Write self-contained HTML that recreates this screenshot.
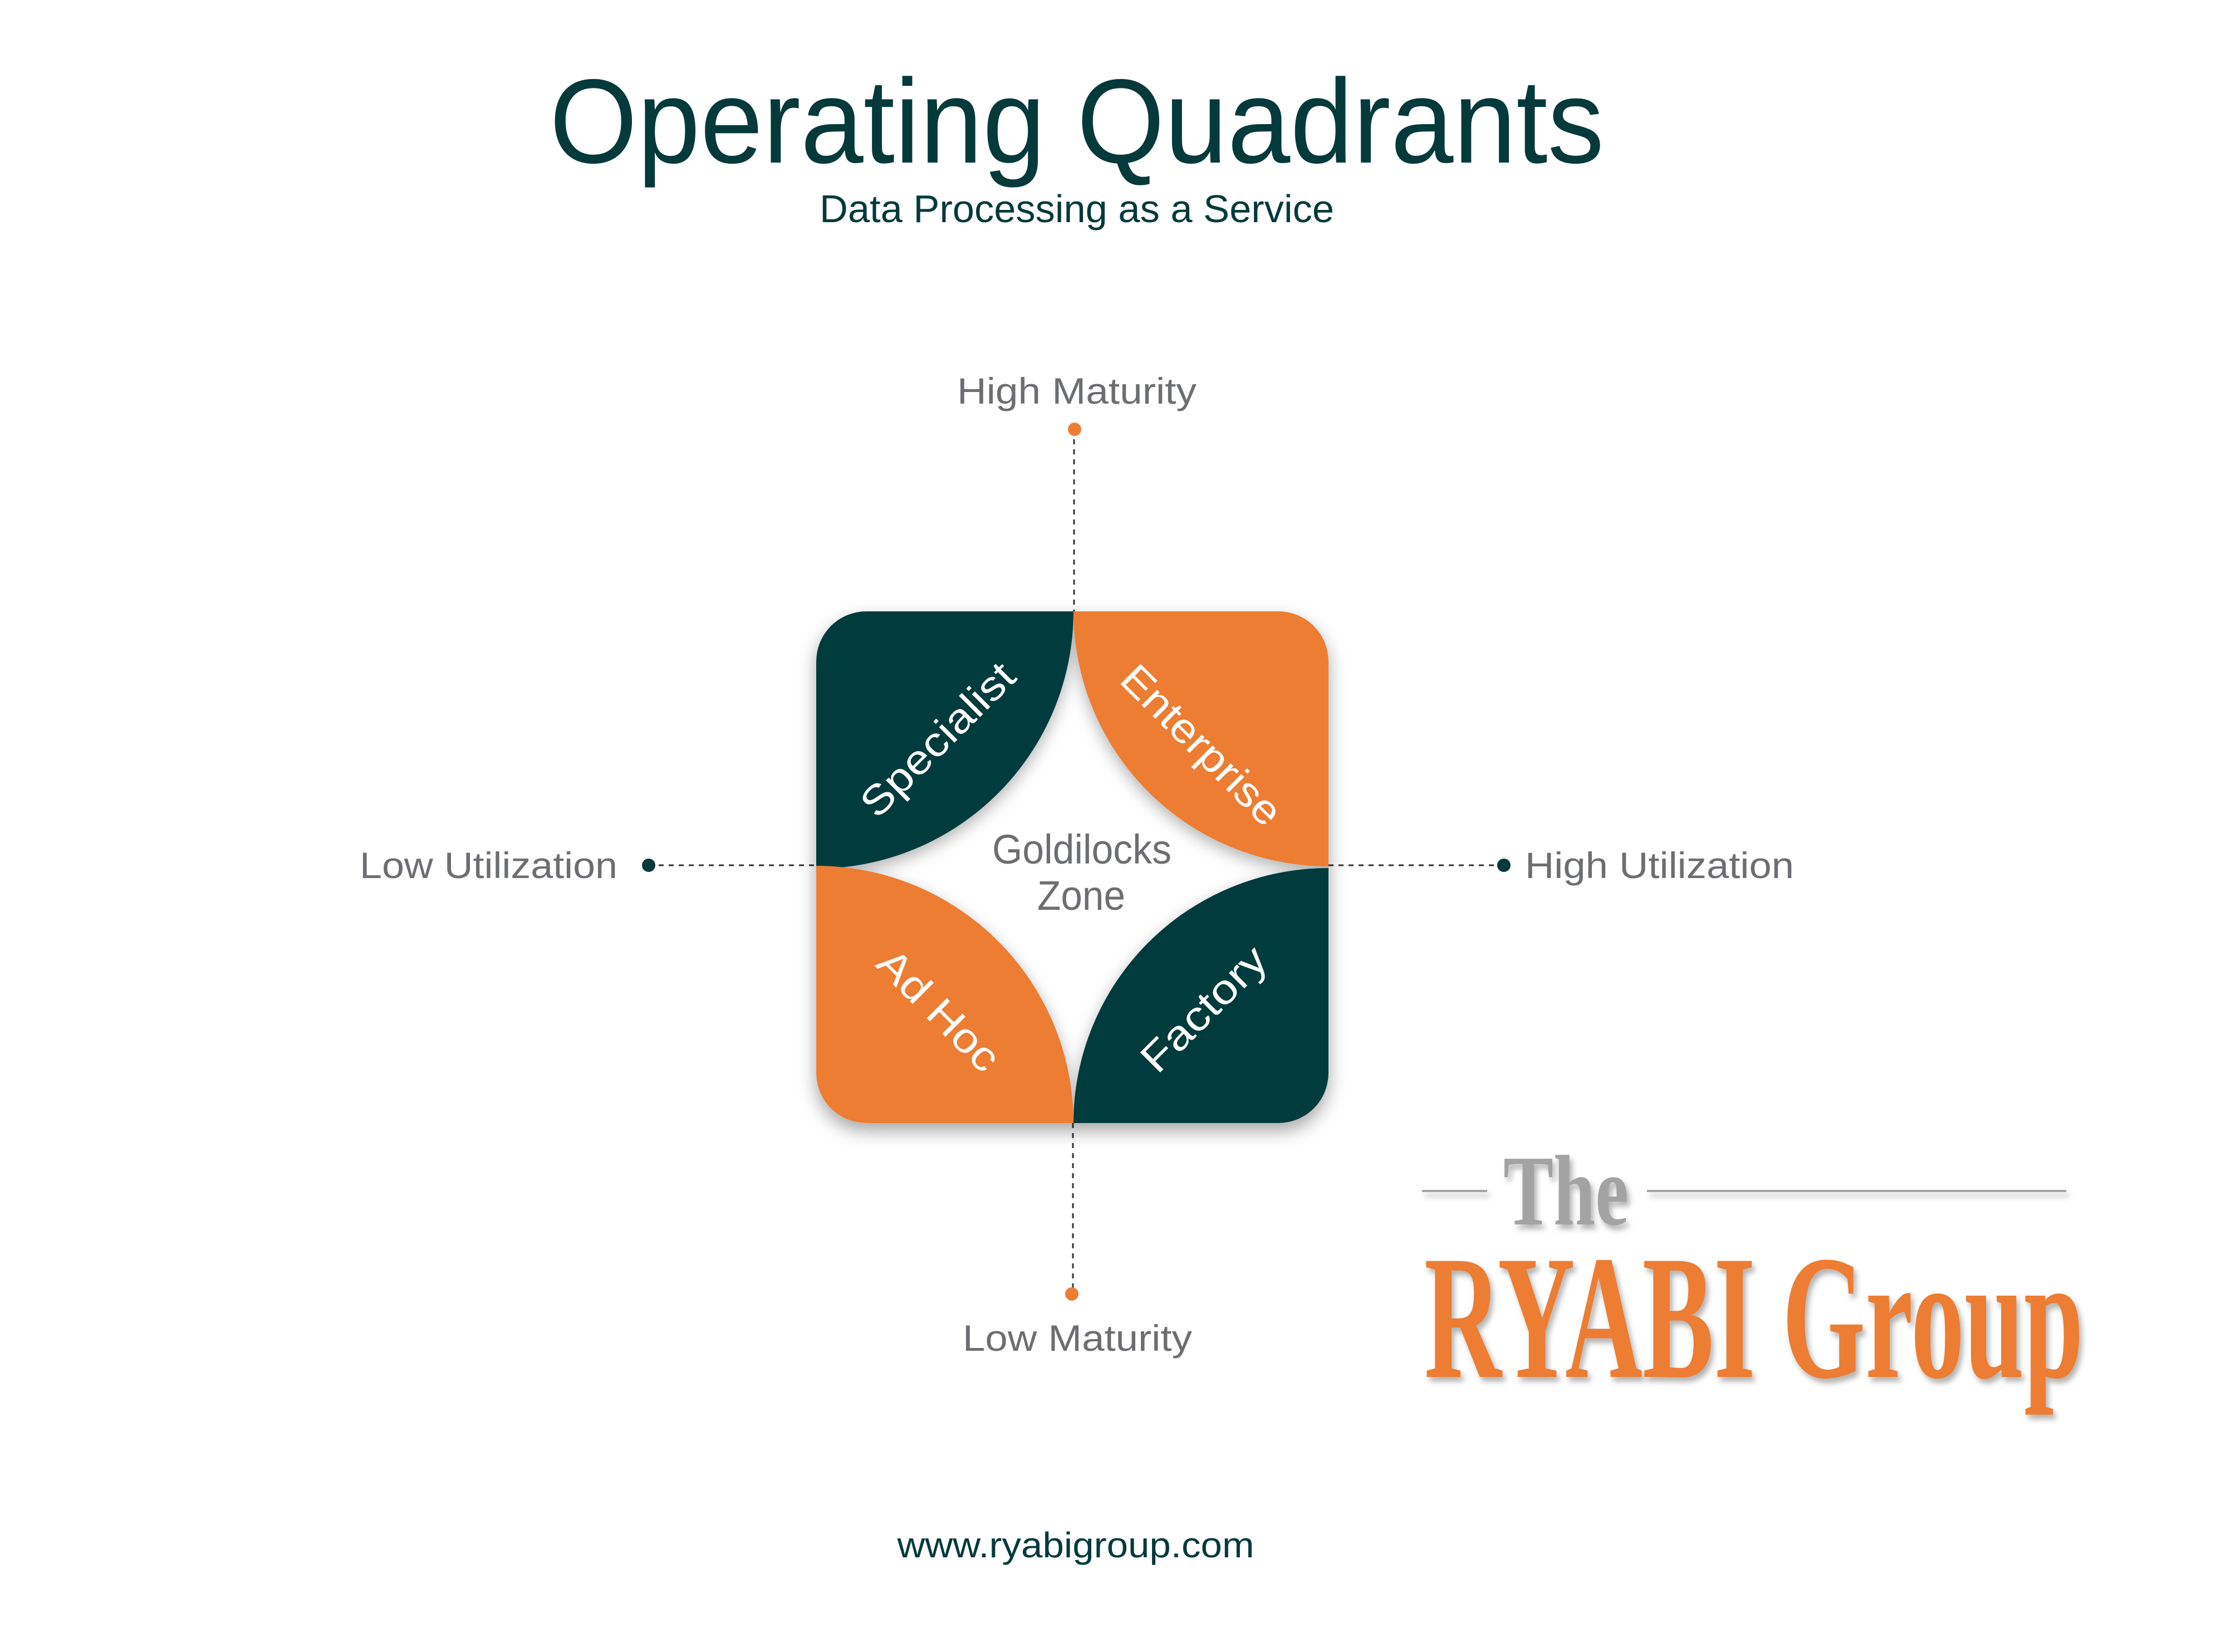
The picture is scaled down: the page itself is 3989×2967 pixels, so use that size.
<!DOCTYPE html>
<html><head><meta charset="utf-8"><style>
html,body{margin:0;padding:0;background:#fff;overflow:hidden;}
svg{display:block;}
.s{font-family:"Liberation Sans",sans-serif;}
.r{font-family:"Liberation Serif",serif;font-weight:bold;}
</style></head><body>
<svg width="3989" height="2967" viewBox="0 0 3989 2967" xmlns="http://www.w3.org/2000/svg">
<defs>
<filter id="sh" x="-20%" y="-20%" width="140%" height="140%"><feDropShadow dx="0" dy="14" stdDeviation="16" flood-color="#000" flood-opacity="0.35"/></filter>
<filter id="sh2" x="-20%" y="-20%" width="140%" height="140%"><feDropShadow dx="0" dy="10" stdDeviation="14" flood-color="#000" flood-opacity="0.3"/></filter>
<filter id="ts" x="-10%" y="-10%" width="130%" height="140%"><feDropShadow dx="5" dy="8" stdDeviation="5" flood-color="#000" flood-opacity="0.3"/></filter>
<clipPath id="clip"><rect x="1466" y="1098" width="920" height="919" rx="90" ry="90"/></clipPath>
</defs>
<g class="s">
<text x="1934" y="292" text-anchor="middle" font-size="215" fill="#053a3b" textLength="1894" lengthAdjust="spacingAndGlyphs">Operating Quadrants</text>
<text x="1934" y="399" text-anchor="middle" font-size="70" fill="#053a3b" textLength="924" lengthAdjust="spacingAndGlyphs">Data Processing as a Service</text>
</g>
<g stroke="#333" stroke-width="3" stroke-dasharray="9,9" fill="none">
<line x1="1929" y1="771" x2="1929" y2="1098"/>
<line x1="1927" y1="2017" x2="1927" y2="2324"/>
<line x1="1165" y1="1554" x2="1466" y2="1554"/>
<line x1="2386" y1="1554" x2="2701" y2="1554"/>
</g>
<circle cx="1930" cy="771" r="12" fill="#ec7d33"/>
<circle cx="1925" cy="2324" r="12" fill="#ec7d33"/>
<circle cx="1165" cy="1554" r="12" fill="#053a3b"/>
<circle cx="2701" cy="1554" r="12" fill="#053a3b"/>

<g class="s" fill="#6d6e71" font-size="66">
<text x="1719" y="725" textLength="430" lengthAdjust="spacingAndGlyphs">High Maturity</text>
<text x="1729" y="2426" textLength="412" lengthAdjust="spacingAndGlyphs">Low Maturity</text>
<text x="646" y="1577" textLength="463" lengthAdjust="spacingAndGlyphs">Low Utilization</text>
<text x="2739" y="1577" textLength="483" lengthAdjust="spacingAndGlyphs">High Utilization</text>
</g>

<rect x="1466" y="1098" width="920" height="919" rx="90" ry="90" fill="#fff" filter="url(#sh)"/>
<g clip-path="url(#clip)">
<g filter="url(#sh2)">
<circle cx="1466" cy="1098" r="462" fill="#043b3d"/>
<circle cx="2386" cy="1098" r="458" fill="#ec7d33"/>
<circle cx="1466" cy="2017" r="462" fill="#ec7d33"/>
<circle cx="2386" cy="2017" r="458" fill="#043b3d"/>
</g>
</g>

<g class="s" fill="#fff" font-size="74" text-anchor="middle">
<text transform="translate(1702,1346) rotate(-45)" textLength="358" lengthAdjust="spacingAndGlyphs">Specialist</text>
<text transform="translate(2140,1356) rotate(45)" textLength="374" lengthAdjust="spacingAndGlyphs">Enterprise</text>
<text transform="translate(1668,1832) rotate(45)" textLength="277" lengthAdjust="spacingAndGlyphs">Ad Hoc</text>
<text transform="translate(2180,1830) rotate(-45)" textLength="286" lengthAdjust="spacingAndGlyphs">Factory</text>
</g>
<g class="s" fill="#6d6e71" font-size="74" text-anchor="middle">
<text x="1943" y="1551" textLength="322" lengthAdjust="spacingAndGlyphs">Goldilocks</text>
<text x="1942" y="1634" textLength="158" lengthAdjust="spacingAndGlyphs">Zone</text>
</g>

<g filter="url(#ts)">
<rect x="2554" y="2137" width="117" height="4" fill="#a3a3a3"/>
<rect x="2958" y="2137" width="753" height="4" fill="#a3a3a3"/>
<text class="r" x="2700" y="2199" font-size="180" fill="#a3a3a3" textLength="225" lengthAdjust="spacingAndGlyphs">The</text>
<text class="r" x="2558" y="2473" font-size="318" fill="#ec7d33" textLength="1184" lengthAdjust="spacingAndGlyphs">RYABI Group</text>
</g>

<text class="s" x="1932" y="2797" text-anchor="middle" font-size="64" fill="#053a3b" textLength="641" lengthAdjust="spacingAndGlyphs">www.ryabigroup.com</text>
</svg>
</body></html>
